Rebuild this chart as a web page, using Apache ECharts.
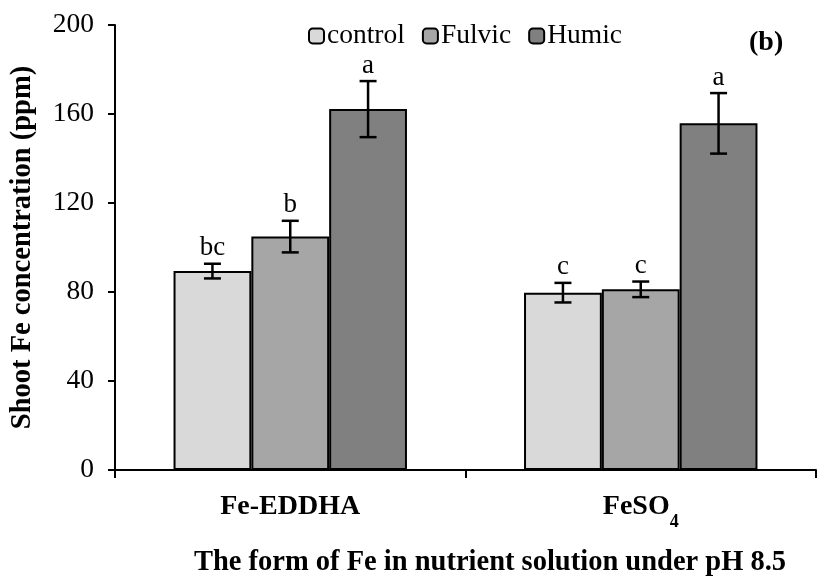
<!DOCTYPE html>
<html>
<head>
<meta charset="utf-8">
<script src="https://cdn.jsdelivr.net/npm/echarts@6/dist/echarts.min.js"></script>
<style>html,body{margin:0;padding:0;background:#fff}#c{width:822px;height:580px}</style>
</head>
<body>
<div id="c"></div>
<script>
const categories = ['Fe-EDDHA', 'FeSO4'];
const seriesNames = ['control', 'Fulvic', 'Humic'];
const control = [89.4, 79.7];
const fulvic = [104.9, 81.2];
const humic = [162.2, 155.8];
const controlErr = [3.3, 4.4];
const fulvicErr = [7.1, 3.5];
const humicErr = [12.6, 13.6];
const controlLetters = ['bc', 'c'];
const fulvicLetters = ['b', 'c'];
const humicLetters = ['a', 'a'];
const yMin = 0, yMax = 200, yInterval = 40;

const values = [control, fulvic, humic];
const errs = [controlErr, fulvicErr, humicErr];
const letters = [controlLetters, fulvicLetters, humicLetters];
const colors = ['#d9d9d9', '#a6a6a6', '#808080'];
const CAT_GAP = 0.334;
const FONT = '"Liberation Serif", "Times New Roman", serif';

const chart = echarts.init(document.getElementById('c'));

const barSeries = seriesNames.map((n, k) => ({
  name: n,
  type: 'bar',
  data: values[k],
  barGap: '0%',
  barCategoryGap: (CAT_GAP * 100) + '%',
  itemStyle: { color: colors[k], borderColor: '#000', borderWidth: 2 },
  z: 2
}));

const errSeries = seriesNames.map((n, k) => ({
  name: 'err-' + n,
  type: 'custom',
  z: 3,
  data: categories.map((c, i) => [i, values[k][i], errs[k][i]]),
  encode: { x: 0, y: 1 },
  renderItem: function (params, api) {
    const ci = api.value(0);
    const v = api.value(1);
    const e = api.value(2);
    const letter = letters[k][params.dataIndex];
    const base = api.coord([ci, v]);
    const bandW = api.size([1, 0])[0];
    const barW = bandW * (1 - CAT_GAP) / 3;
    const cx = base[0] + (k - 1) * barW;
    const top = api.coord([ci, v + e])[1];
    const bot = api.coord([ci, v - e])[1];
    const cap = 8.5;
    const ls = { stroke: '#000', lineWidth: 2.5 };
    return {
      type: 'group',
      children: [
        { type: 'line', shape: { x1: cx, y1: top, x2: cx, y2: bot }, style: ls },
        { type: 'line', shape: { x1: cx - cap, y1: top, x2: cx + cap, y2: top }, style: ls },
        { type: 'line', shape: { x1: cx - cap, y1: bot, x2: cx + cap, y2: bot }, style: ls },
        { type: 'text', x: cx, y: top - 2, style: { text: letter, fill: '#000', font: '27px ' + FONT, textAlign: 'center', textVerticalAlign: 'bottom' } }
      ]
    };
  }
}));

chart.setOption({
  backgroundColor: '#fff',
  animation: false,
  textStyle: { fontFamily: FONT, color: '#000' },
  grid: { left: 113, right: 6, top: 25, bottom: 110 },
  legend: {
    data: seriesNames,
    left: 303,
    top: 17,
    itemWidth: 15,
    itemHeight: 15,
    itemGap: 17,
    icon: 'roundRect',
    textStyle: { fontFamily: FONT, fontSize: 27.5, color: '#000', padding: [0, 0, 0, -2] }
  },
  xAxis: {
    type: 'category',
    data: categories,
    axisLine: { lineStyle: { color: '#000', width: 2 } },
    axisTick: { show: true, length: 8, lineStyle: { color: '#000', width: 2 } },
    axisLabel: {
      margin: 21,
      color: '#000',
      formatter: function (v) { return v === 'FeSO4' ? '{a|FeSO}{s|4}' : '{a|' + v + '}'; },
      rich: {
        a: { fontFamily: FONT, fontSize: 28, fontWeight: 'bold', color: '#000', lineHeight: 30, verticalAlign: 'bottom' },
        s: { fontFamily: FONT, fontSize: 18, fontWeight: 'bold', color: '#000', lineHeight: 30, verticalAlign: 'bottom', padding: [0, 0, -10, 0] }
      }
    }
  },
  yAxis: {
    type: 'value',
    min: yMin,
    max: yMax,
    interval: yInterval,
    name: 'Shoot Fe concentration (ppm)',
    nameLocation: 'middle',
    nameGap: 78,
    nameTextStyle: { fontFamily: FONT, fontSize: 28.5, fontWeight: 'bold', color: '#000' },
    axisLine: { show: true, lineStyle: { color: '#000', width: 2 } },
    axisTick: { show: true, length: 7, lineStyle: { color: '#000', width: 2 } },
    axisLabel: { margin: 21, fontFamily: FONT, fontSize: 27.5, color: '#000' },
    splitLine: { show: false }
  },
  graphic: [
    { type: 'text', left: 749, top: 29, style: { text: '(b)', font: 'bold 28px ' + FONT, fill: '#000' } },
    { type: 'text', x: 490, y: 563, style: { text: 'The form of Fe in nutrient solution under pH 8.5', font: 'bold 28.5px ' + FONT, fill: '#000', textAlign: 'center', textVerticalAlign: 'middle' } }
  ],
  series: barSeries.concat(errSeries)
});
</script>
</body>
</html>
